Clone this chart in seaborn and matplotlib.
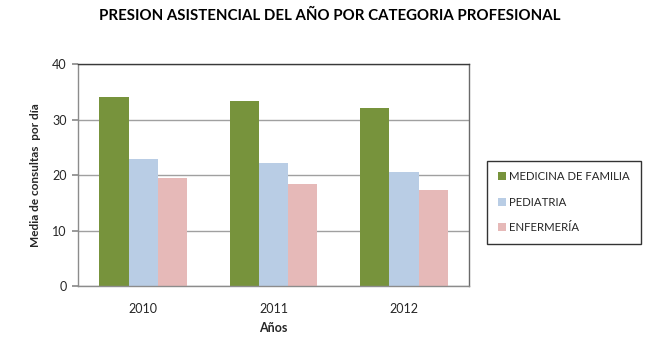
import matplotlib
matplotlib.use("Agg")
import matplotlib.pyplot as plt
import seaborn as sns
import pandas as pd

years = ["2010", "2011", "2012"]
categorias = ["MEDICINA DE FAMILIA", "PEDIATRIA", "ENFERMERÍA"]
medicina = [34.0, 33.4, 32.0]
pediatria = [22.9, 22.2, 20.5]
enfermeria = [19.5, 18.3, 17.3]
colores = ["#77933C", "#B9CDE5", "#E6B9B8"]

rows = []
for cat, vals in zip(categorias, [medicina, pediatria, enfermeria]):
    for y, v in zip(years, vals):
        rows.append({"Año": y, "Categoría": cat, "Valor": v})
df = pd.DataFrame(rows)

sns.set_theme(style="white")
plt.rcParams["font.family"] = ["Lato", "DejaVu Sans"]

fig = plt.figure(figsize=(6.6, 3.48), dpi=100)
ax = fig.add_axes([0.118, 0.178, 0.593, 0.638])

sns.barplot(data=df, x="Año", y="Valor", hue="Categoría", palette=colores,
            width=0.67, gap=0, ax=ax, saturation=1, edgecolor="none",
            errorbar=None)

ax.set_ylim(0, 40)
ax.set_yticks([0, 10, 20, 30, 40])
ax.set_xlim(-0.5, 2.5)
ax.yaxis.grid(True, color="#A0A0A0", linewidth=1.0)
ax.set_axisbelow(True)

for side in ["left", "bottom"]:
    ax.spines[side].set_color("#8C8C8C")
    ax.spines[side].set_linewidth(1.0)
ax.spines["top"].set_color("#3A3A3A")
ax.spines["top"].set_linewidth(1.0)
ax.spines["right"].set_color("#6A6A6A")
ax.spines["right"].set_linewidth(1.0)

ax.tick_params(axis="y", left=True, length=4, color="#8C8C8C", labelsize=9,
               labelcolor="#262626", pad=4)
ax.tick_params(axis="x", bottom=False, labelsize=9, labelcolor="#262626", pad=6)

ax.set_xlabel("Años", fontsize=9, fontweight="bold", labelpad=5)
ax.set_ylabel("Media de consultas  por día", fontsize=8.5, fontweight="bold", labelpad=8)

fig.text(0.5, 0.955, "PRESION ASISTENCIAL DEL AÑO POR CATEGORIA PROFESIONAL",
         ha="center", va="center", fontsize=10.8, fontweight="bold", color="#000000")

leg = ax.legend(loc="center left", bbox_to_anchor=(1.045, 0.378), frameon=True,
                fontsize=8.2, handlelength=0.7, handleheight=0.7, handletextpad=0.3,
                labelspacing=1.25, borderpad=0.95, borderaxespad=0, fancybox=False,
                title=None)
leg.get_frame().set_edgecolor("#000000")
leg.get_frame().set_linewidth(1.0)
for t in leg.get_texts():
    t.set_color("#262626")

fig.savefig("out.png", dpi=100)
